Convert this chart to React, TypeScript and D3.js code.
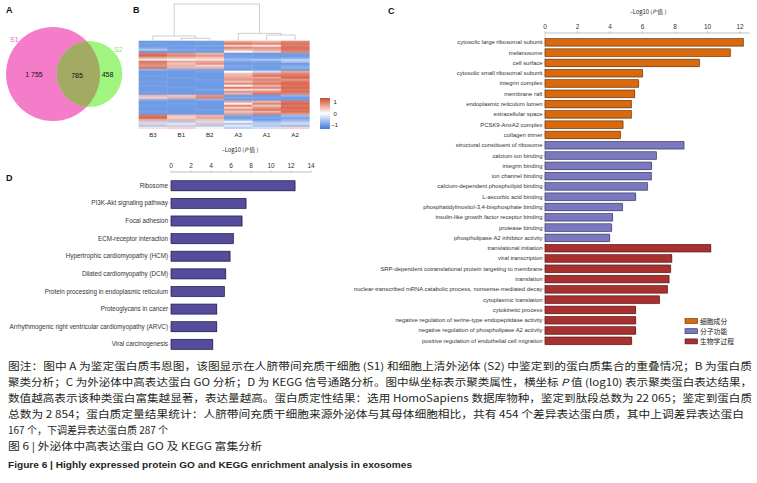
import React from "react";
import * as d3 from "d3";

// ---------- DATA ----------
const vennLabels = ["S1", "S2"];
const vennCounts = ["1 755", "785", "458"];

const heatCols = ["B3", "B1", "B2", "A3", "A1", "A2"];
const heatRows: number[][] = [
  [-0.9, -0.9, -0.85, 0.6, 0.5, 0.8],
  [-0.85, -0.9, -0.9, 0.9, 0.8, 0.9],
  [-0.9, -0.85, -0.8, 0.3, 0.2, 0.85],
  [-0.8, -0.9, -0.9, 0.8, 0.7, 0.95],
  [-0.5, -0.8, -0.85, 0.5, 0.6, 0.9],
  [-0.9, -0.9, -0.9, 0.05, 0.3, 0.8],
  [0.9, 0.7, 0.5, -0.9, -0.9, -0.85],
  [1.0, 0.8, 0.7, -0.85, -0.9, -0.9],
  [0.6, 0.5, 0.4, -0.8, -0.85, -0.8],
  [-0.2, 0.1, 0.2, -0.6, -0.5, -0.4],
  [0.9, 0.6, 0.6, -0.8, -0.8, -0.5],
  [0.8, 0.4, 0.7, -0.9, -0.9, -0.9],
  [0.7, 0.5, 0.3, -0.8, -0.85, -0.8],
  [0.9, 0.5, 0.5, -0.85, -0.9, -0.7],
  [-0.7, -0.8, -0.8, -0.9, -0.85, -0.9],
  [-0.9, -0.9, -0.85, 0.0, -0.3, 0.6],
  [-0.9, -0.9, -0.9, 0.4, 0.7, 0.8],
  [-0.85, -0.9, -0.9, 0.5, 0.9, 0.9],
  [-0.9, -0.85, -0.9, 0.6, 0.6, 1.0],
  [-0.9, -0.9, -0.85, 0.7, 0.8, 0.7],
  [-0.85, -0.9, -0.9, 0.4, 0.7, 0.9],
  [-0.9, -0.9, -0.9, 0.8, 0.9, 1.0],
  [-0.85, -0.9, -0.9, 0.1, 0.5, 0.9],
  [-0.9, -0.85, -0.9, 0.9, 0.8, 1.0],
  [-0.9, -0.9, -0.8, 0.2, 0.3, 0.9],
  [-0.85, -0.9, -0.9, 0.7, 0.7, 0.95],
  [-0.9, -0.9, -0.9, 0.5, 0.9, 0.8],
  [0.5, 0.4, 0.7, -0.9, -0.9, -0.7],
  [0.3, 0.5, 0.8, -0.8, -0.85, -0.9],
  [-0.7, -0.8, -0.7, -0.9, -0.9, -0.9],
  [-0.9, -0.9, -0.9, 0.6, 0.5, 0.9],
  [-0.9, -0.85, -0.9, 0.1, 0.8, 1.0],
  [-0.85, -0.9, -0.9, 0.8, 0.4, 0.9],
  [-0.9, -0.9, -0.9, 0.3, 0.7, 1.0],
  [-0.9, -0.9, -0.85, 0.7, 0.9, 0.9],
  [-0.85, -0.9, -0.9, 0.4, 0.5, 0.95],
  [-0.9, -0.9, -0.9, 0.6, 0.8, 0.7],
  [0.9, 0.4, 0.5, -0.8, -0.9, -0.6],
  [1.0, 0.3, 0.6, -0.9, -0.8, -0.8],
  [0.6, 0.5, 0.4, -0.7, -0.9, -0.7],
  [-0.4, -0.5, -0.3, 0.1, -0.6, -0.5],
  [0.3, 0.2, 0.4, -0.5, -0.4, -0.3],
  [-0.5, -0.4, -0.5, -0.2, -0.5, -0.6],
  [0.2, 0.3, 0.1, -0.4, -0.3, 0.3],
];
// dendrogram merge heights (0 = leaves, 1 = root)
const dendroHeights = { b1b2: 0.065, b3: 0.128, a1a2: 0.155, a3: 0.2, root: 1 };
const heatLegendTicks = [1, 0, -1];

const goCategories = ["细胞成分", "分子功能", "生物学过程"];
const goCC = [
  "cytosolic large ribosomal subunit", "melanosome", "cell surface",
  "cytosolic small ribosomal subunit", "integrin complex", "membrane raft",
  "endoplasmic reticulum lumen", "extracellular space", "PCSK9-AnxA2 complex", "collagen trimer",
];
const goCCValues = [12.2, 11.4, 9.5, 6.0, 5.76, 5.52, 5.31, 5.31, 4.8, 4.64];
const goMF = [
  "structural constituent of ribosome", "calcium ion binding", "integrin binding",
  "ion channel binding", "calcium-dependent phospholipid binding", "L-ascorbic acid binding",
  "phosphatidylinositol-3,4-bisphosphate binding", "insulin-like growth factor receptor binding",
  "protease binding", "phospholipase A2 inhibitor activity",
];
const goMFValues = [8.55, 6.85, 6.56, 6.54, 6.3, 5.58, 4.76, 4.16, 4.1, 3.98];
const goBP = [
  "translational initiation", "viral transcription",
  "SRP-dependent cotranslational protein targeting to membrane", "translation",
  "nuclear-transcribed mRNA catabolic process, nonsense-mediated decay",
  "cytoplasmic translation", "cytokinetic process",
  "negative regulation of serine-type endopeptidase activity",
  "negative regulation of phospholipase A2 activity",
  "positive regulation of endothelial cell migration",
];
const goBPValues = [10.2, 7.8, 7.73, 7.63, 7.53, 7.04, 5.58, 5.58, 5.58, 5.33];
const goTicks = [0, 2, 4, 6, 8, 10, 12];

const keggTerms = [
  "Ribosome", "PI3K-Akt signaling pathway", "Focal adhesion", "ECM-receptor interaction",
  "Hypertrophic cardiomyopathy (HCM)", "Dilated cardiomyopathy (DCM)",
  "Protein processing in endoplasmic reticulum", "Proteoglycans in cancer",
  "Arrhythmogenic right ventricular cardiomyopathy (ARVC)", "Viral carcinogenesis",
];
const keggValues = [12.4, 7.5, 7.1, 6.23, 5.9, 5.47, 5.33, 4.57, 4.57, 4.17];
const keggTicks = [0, 2, 4, 6, 8, 10, 12, 14];

const captionLines = [
  "图注：图中 A 为鉴定蛋白质韦恩图，该图显示在人脐带间充质干细胞 (S1) 和细胞上清外泌体 (S2) 中鉴定到的蛋白质集合的重叠情况；B 为蛋白质",
  "聚类分析；C 为外泌体中高表达蛋白 GO 分析；D 为 KEGG 信号通路分析。图中纵坐标表示聚类属性，横坐标 |P| 值 (log10) 表示聚类蛋白表达结果，",
  "数值越高表示该种类蛋白富集越显著，表达量越高。蛋白质定性结果：选用 HomoSapiens 数据库物种，鉴定到肽段总数为 22 065；鉴定到蛋白质",
  "总数为 2 854；蛋白质定量结果统计：人脐带间充质干细胞来源外泌体与其母体细胞相比，共有 454 个差异表达蛋白质，其中上调差异表达蛋白",
  "167 个，下调差异表达蛋白质 287 个",
];
const figTitleCn = "图 6 | 外泌体中高表达蛋白 GO 及 KEGG 富集分析";
const figTitleEn = "Figure 6 | Highly expressed protein GO and KEGG enrichment analysis in exosomes";

// ---------- STYLE ----------
const SANS = "'Liberation Sans', Arial, sans-serif";
const CJK = "'Noto Sans CJK SC', 'Liberation Sans', sans-serif";
const goColors = ["#d8690c", "#7b78c0", "#a8302f"];
const goStrokes = ["#5a2a08", "#2e2c55", "#4a1212"];

function AxisTitle({ x, y }: { x: number; y: number }) {
  return (
    <text x={x} y={y} textAnchor="middle" fontSize={5.8} fontFamily={CJK} fill="#222">
      –Log10 (<tspan fontStyle="italic">P</tspan> 值 )
    </text>
  );
}

export default function App() {
  // ----- Panel A: Venn -----
  const vennR = d3.scaleSqrt().domain([0, 2540]).range([0, 47]);
  const r1 = vennR(1755 + 785);
  const r2 = vennR(458 + 785);
  const c1 = { x: 53, y: 74 };
  const c2 = { x: 89.5, y: 74 };

  // ----- Panel B: heatmap -----
  const xH = d3.scaleBand<string>().domain(heatCols).range([138.7, 309.3]);
  const yH = d3.scaleBand<number>().domain(d3.range(heatRows.length)).range([40.7, 128.7]);
  const heatColor = d3
    .scaleLinear<string>()
    .domain([-1.2, 0, 1.2])
    .range(["#3f79dc", "#ffffff", "#d24a2e"])
    .clamp(true);
  const yDen = d3.scaleLinear().domain([0, 1]).range([40.7, 4]);
  const cx = (c: string) => (xH(c) as number) + xH.bandwidth() / 2;
  const xB1B2 = (cx("B1") + cx("B2")) / 2;
  const xBall = (cx("B3") + xB1B2) / 2;
  const xA1A2 = (cx("A1") + cx("A2")) / 2;
  const xAall = (cx("A3") + xA1A2) / 2;
  const dendroLinks: [number, number, number, number, number][] = [
    [cx("B1"), 0, cx("B2"), 0, dendroHeights.b1b2],
    [cx("B3"), 0, xB1B2, dendroHeights.b1b2, dendroHeights.b3],
    [cx("A1"), 0, cx("A2"), 0, dendroHeights.a1a2],
    [cx("A3"), 0, xA1A2, dendroHeights.a1a2, dendroHeights.a3],
    [xBall, dendroHeights.b3, xAall, dendroHeights.a3, dendroHeights.root],
  ];
  const legScale = d3.scaleLinear().domain([1.3, -1.3]).range([98, 129]);

  // ----- Panel C: GO -----
  const goTerms = [...goCC, ...goMF, ...goBP];
  const goVals = [...goCCValues, ...goMFValues, ...goBPValues];
  const goCat = [...goCC.map(() => 0), ...goMF.map(() => 1), ...goBP.map(() => 2)];
  const xC = d3.scaleLinear().domain([0, 12.6]).range([545, 749.75]);
  const yC = d3.scaleBand<string>().domain(goTerms).range([37.15, 345.9]).paddingInner(0.27).paddingOuter(0.135);

  // ----- Panel D: KEGG -----
  const xD = d3.scaleLinear().domain([0, 14]).range([171, 311]);
  const yD = d3.scaleBand<string>().domain(keggTerms).range([176.9, 353.1]).paddingInner(0.433).paddingOuter(0.2165);

  const capY = d3.scaleLinear().domain([0, 1]).range([369.5, 385.5]);

  return (
    <div style={{ position: "absolute", left: 0, top: 0 }}>
      <svg width={757} height={483} viewBox="0 0 757 483" style={{ display: "block", background: "#fff" }}>
        {/* Panel labels */}
        <g fontFamily={SANS} fontWeight="bold" fontSize={9} fill="#111">
          <text x={6} y={13}>A</text>
          <text x={133} y={13}>B</text>
          <text x={388} y={14}>C</text>
          <text x={6} y={181}>D</text>
        </g>

        {/* ===== Panel A ===== */}
        <defs>
          <clipPath id="clipS1">
            <circle cx={c1.x} cy={c1.y} r={r1} />
          </clipPath>
          <linearGradient id="heatLeg" x1="0" y1="0" x2="0" y2="1">
            <stop offset="0%" stopColor={heatColor(1.3)} />
            <stop offset="50%" stopColor={heatColor(0)} />
            <stop offset="100%" stopColor={heatColor(-1.3)} />
          </linearGradient>
        </defs>
        <circle cx={c1.x} cy={c1.y} r={r1} fill="#f47cc9" />
        <circle cx={c2.x} cy={c2.y} r={r2} fill="#9ff57d" />
        <circle cx={c2.x} cy={c2.y} r={r2} fill="#a2aa63" clipPath="url(#clipS1)" />
        <g fontFamily={SANS} fontSize={7}>
          <text x={10} y={42} fill="#ee6cc0">{vennLabels[0]}</text>
          <text x={114} y={52} fill="#86e866">{vennLabels[1]}</text>
          <text x={34} y={77} textAnchor="middle" fill="#111">{vennCounts[0]}</text>
          <text x={77} y={78} textAnchor="middle" fill="#111">{vennCounts[1]}</text>
          <text x={107.5} y={77} textAnchor="middle" fill="#111">{vennCounts[2]}</text>
        </g>

        {/* ===== Panel B ===== */}
        <g>
          {heatRows.map((row, i) =>
            row.map((v, j) => (
              <rect
                key={`h${i}-${j}`}
                x={xH(heatCols[j])}
                y={yH(i)}
                width={xH.bandwidth() + 0.3}
                height={yH.bandwidth() + 0.3}
                fill={heatColor(v)}
              />
            ))
          )}
        </g>
        <g stroke="#b9b9b9" strokeWidth={0.7} fill="none">
          {dendroLinks.map(([xl, hl, xr, hr, h], i) => (
            <path key={`d${i}`} d={`M${xl},${yDen(hl)}V${yDen(h)}H${xr}V${yDen(hr)}`} />
          ))}
        </g>
        <g fontFamily={SANS} fontSize={6.2} fill="#222" textAnchor="middle">
          {heatCols.map((c) => (
            <text key={c} x={cx(c)} y={137}>{c}</text>
          ))}
        </g>
        <rect x={320} y={98} width={10} height={31} fill="url(#heatLeg)" />
        <g fontFamily={SANS} fontSize={6} fill="#222">
          {heatLegendTicks.map((t) => (
            <text key={t} x={t < 0 ? 331.5 : 333.5} y={legScale(t) + 2}>{t < 0 ? "–1" : String(t)}</text>
          ))}
        </g>

        {/* ===== Panel C ===== */}
        <AxisTitle x={648} y={14} />
        <line x1={xC(0)} x2={xC(12.6)} y1={33} y2={33} stroke="#999" strokeWidth={0.6} />
        <g fontFamily={SANS} fontSize={6.5} fill="#333" textAnchor="middle">
          {goTicks.map((t) => (
            <g key={t}>
              <line x1={xC(t)} x2={xC(t)} y1={31.3} y2={33} stroke="#999" strokeWidth={0.6} />
              <text x={xC(t)} y={29}>{t}</text>
            </g>
          ))}
        </g>
        <line x1={xC(0)} x2={xC(0)} y1={33} y2={346} stroke="#bbb" strokeWidth={0.5} />
        <g>
          {goTerms.map((t, i) => {
            const y = yC(t) as number;
            const w = xC(goVals[i]) - xC(0);
            return (
              <g key={t}>
                <rect x={xC(0) + 0.8} y={y + 0.8} width={w} height={yC.bandwidth()} fill={goColors[goCat[i]]} opacity={0.3} />
                <rect x={xC(0)} y={y} width={w} height={yC.bandwidth()} fill={goColors[goCat[i]]} stroke={goStrokes[goCat[i]]} strokeWidth={0.6} />
                <line x1={xC(0) - 1.5} x2={xC(0)} y1={y + yC.bandwidth() / 2} y2={y + yC.bandwidth() / 2} stroke="#999" strokeWidth={0.5} />
                <text x={xC(0) - 2.5} y={y + yC.bandwidth() / 2 + 2} textAnchor="end" fontFamily={SANS} fontSize={5.9} fill="#333">{t}</text>
              </g>
            );
          })}
        </g>
        {goCategories.map((c, i) => (
          <g key={c}>
            <rect x={685} y={318.5 + i * 10.2} width={12.5} height={5} fill={goColors[i]} stroke={goStrokes[i]} strokeWidth={0.6} />
            <text x={700} y={323.8 + i * 10.2} fontFamily={CJK} fontSize={6.8} fill="#222">{c}</text>
          </g>
        ))}

        {/* ===== Panel D ===== */}
        <AxisTitle x={240} y={152} />
        <line x1={xD(0)} x2={xD(14)} y1={172} y2={172} stroke="#999" strokeWidth={0.6} />
        <g fontFamily={SANS} fontSize={6.5} fill="#333" textAnchor="middle">
          {keggTicks.map((t) => (
            <g key={t}>
              <line x1={xD(t)} x2={xD(t)} y1={170.5} y2={172} stroke="#999" strokeWidth={0.6} />
              <text x={xD(t)} y={167.5}>{t}</text>
            </g>
          ))}
        </g>
        <g>
          {keggTerms.map((t, i) => {
            const y = yD(t) as number;
            const w = xD(keggValues[i]) - xD(0);
            return (
              <g key={t}>
                <rect x={xD(0) + 0.8} y={y + 0.8} width={w} height={yD.bandwidth()} fill="#8e88c8" opacity={0.4} />
                <rect x={xD(0)} y={y} width={w} height={yD.bandwidth()} fill="#554c9c" stroke="#1e1a3c" strokeWidth={0.7} />
                <line x1={xD(0) - 2} x2={xD(0)} y1={y + yD.bandwidth() / 2} y2={y + yD.bandwidth() / 2} stroke="#999" strokeWidth={0.5} />
                <text x={xD(0) - 3} y={y + yD.bandwidth() / 2 + 2.1} textAnchor="end" fontFamily={SANS} fontSize={6.3} fill="#333">{t}</text>
              </g>
            );
          })}
        </g>

        {/* ===== Caption ===== */}
        <g fontFamily={CJK} fontSize={10} fill="#231f20">
          {captionLines.map((line, i) => {
            const parts = line.split("|");
            const justify = i < 4;
            const len = i === 3 ? 736 : 744;
            return (
              <text
                key={i}
                x={8}
                y={capY(i)}
                {...(justify ? { textLength: len, lengthAdjust: "spacingAndGlyphs" } : {})}
              >
                {parts.map((p, k) => (
                  <tspan key={k} fontStyle={k % 2 === 1 ? "italic" : "normal"}>{p}</tspan>
                ))}
              </text>
            );
          })}
          <text x={8} y={449.5} fontSize={10} textLength={254} lengthAdjust="spacingAndGlyphs">{figTitleCn}</text>
          <text x={8} y={467.5} fontSize={9} fontWeight="bold" textLength={404} lengthAdjust="spacingAndGlyphs" fontFamily={SANS}>{figTitleEn}</text>
        </g>
      </svg>
    </div>
  );
}
